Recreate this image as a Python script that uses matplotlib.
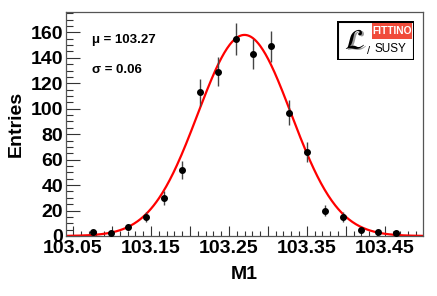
import numpy as np
import matplotlib.pyplot as plt
from matplotlib.patches import Rectangle
from matplotlib.ticker import MultipleLocator, FixedLocator

# binned toy results for M1
x_lo, x_hi = 103.041, 103.499
n_bins = 20
counts = [0, 3, 2, 7, 15, 30, 52, 113, 129, 155, 143, 149, 97, 66, 20, 15, 5, 3, 2, 0]

# gaussian fit
fit_amp = 158.0
fit_mu = 103.27
fit_sigma = 0.06

x_ticks = [103.05, 103.15, 103.25, 103.35, 103.45]
x_tick_labels = ["103.05", "103.15", "103.25", "103.35", "103.45"]
y_ticks = [0, 20, 40, 60, 80, 100, 120, 140, 160]

W, H = 437, 296
fig = plt.figure(figsize=(W / 100, H / 100), dpi=100)
ax = fig.add_axes([66 / W, 1 - 236 / H, 357 / W, 224 / H])

edges = np.linspace(x_lo, x_hi, n_bins + 1)
centers = 0.5 * (edges[:-1] + edges[1:])
counts = np.array(counts, dtype=float)
mask = counts > 0

ax.errorbar(centers[mask], counts[mask], yerr=np.sqrt(counts[mask]),
            fmt='o', color='black', ms=4, ecolor='#444444', elinewidth=1,
            capsize=0, zorder=3)

xf = np.linspace(x_lo, x_hi, 400)
ax.plot(xf, fit_amp * np.exp(-0.5 * ((xf - fit_mu) / fit_sigma) ** 2),
        color='red', lw=1.6, zorder=2)

ax.set_xlim(x_lo, x_hi)
ax.set_ylim(0, 176)

font = dict(family=['Liberation Sans', 'DejaVu Sans'], weight='bold')

# x axis: long ticks every 0.05, labels every 0.1, minor every 0.01
ax.xaxis.set_major_locator(FixedLocator(np.arange(103.05, 103.5, 0.05)))
ax.xaxis.set_minor_locator(MultipleLocator(0.01))
ax.tick_params(axis='x', which='major', direction='in', length=7.2, width=0.8,
               color='#333333', labelbottom=False)
ax.tick_params(axis='x', which='minor', direction='in', length=3.6, width=0.8,
               color='#333333')
for v, lab in zip(x_ticks, x_tick_labels):
    ax.text(v, -0.018, lab, transform=ax.get_xaxis_transform(), ha='center',
            va='top', fontsize=14, **font)

ax.yaxis.set_major_locator(FixedLocator(y_ticks))
ax.yaxis.set_minor_locator(MultipleLocator(5))
ax.set_yticklabels([str(v) for v in y_ticks], fontsize=14, **font)
ax.tick_params(axis='y', which='major', direction='in', length=10, width=0.8,
               color='#333333', pad=2)
ax.tick_params(axis='y', which='minor', direction='in', length=5, width=0.8,
               color='#333333')

for s in ax.spines.values():
    s.set_color('#555555')
    s.set_linewidth(0.9)

ax.set_ylabel('Entries', fontsize=14, **font)
ax.yaxis.set_label_coords(-0.115, 0.5)
ax.set_xlabel('M1', fontsize=14, **font)
ax.xaxis.set_label_coords(0.5, -0.135)

ax.text((92 - 66) / 357, (236 - 40) / 224, '\u03bc = %.2f' % fit_mu,
        transform=ax.transAxes, ha='left', va='center', fontsize=9.5, **font)
ax.text((92 - 66) / 357, (236 - 70) / 224, '\u03c3 = %.2f' % fit_sigma,
        transform=ax.transAxes, ha='left', va='center', fontsize=9.5, **font)

# logo box
lg = fig.add_axes([337 / W, 1 - 60 / H, 77 / W, 39 / H])
lg.set_xlim(0, 77)
lg.set_ylim(39, 0)
lg.axis('off')
lg.add_patch(Rectangle((0.5, 0.5), 76, 38, fill=False, ec='black', lw=1.5))
lg.add_patch(Rectangle((35, 1.5), 40, 16, fc='#f04b3a', ec='none'))
narrow = ['Liberation Sans Narrow', 'Liberation Sans', 'DejaVu Sans']
lg.text(55, 9.8, 'FITTINO', color='white', ha='center', va='center',
        fontsize=7.4, family=narrow, weight='bold')
lg.text(53, 28, 'SUSY', color='black', ha='center', va='center',
        fontsize=8.5, family=narrow)
lg.text(32, 30, '/', color='black', ha='center', va='center',
        fontsize=8, family=narrow)
lg.text(19, 21, r'$\mathcal{L}$', color='#999999', ha='center', va='center',
        fontsize=21)
lg.text(17.5, 20, r'$\mathcal{L}$', color='black', ha='center', va='center',
        fontsize=21)

fig.savefig('out.png', dpi=100)
